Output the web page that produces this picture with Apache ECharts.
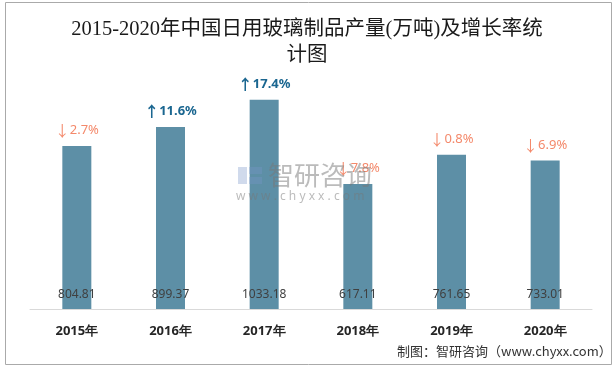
<!DOCTYPE html>
<html><head><meta charset="utf-8">
<script src="https://cdn.jsdelivr.net/npm/echarts@6/dist/echarts.min.js"></script>
<style>html,body{margin:0;padding:0;background:#fff}#c{width:614px;height:368px}</style>
</head><body><div id="c"></div>
<script>
const categories = ['2015年','2016年','2017年','2018年','2019年','2020年'];
const production = [804.81, 899.37, 1033.18, 617.11, 761.65, 733.01];
const growthRate = [-2.7, 11.6, 17.4, -7.8, -0.8, -6.9];

const chart = echarts.init(document.getElementById('c'));
const wm = 'rgba(120,120,120,0.5)';
chart.setOption({
  animation: false,
  backgroundColor: '#fff',
  title: {
    text: '2015-2020年中国日用玻璃制品产量(万吨)及增长率统\n计图',
    left: 'center', top: 12,
    textStyle: { fontFamily: 'Liberation Serif, Noto Sans CJK SC', fontSize: 20.5, fontWeight: 'normal', color: '#1a1a1a', lineHeight: 26 }
  },
  grid: { left: 30, right: 22, top: 66, bottom: 59 },
  xAxis: {
    type: 'category', data: categories,
    axisLine: { lineStyle: { color: '#d9d9d9', width: 1 } },
    axisTick: { show: false },
    axisLabel: { margin: 16, fontSize: 13, fontWeight: 'bold', color: '#262626', fontFamily: 'Noto Sans, sans-serif' }
  },
  yAxis: { type: 'value', min: 0, max: 1200, show: false, splitLine: { show: false } },
  series: [
    {
      type: 'bar', data: production, barWidth: 29,
      itemStyle: { color: '#5D8FA6' },
      label: { show: true, position: 'insideBottom', distance: 8, color: '#404040', fontSize: 12, fontFamily: 'Noto Sans, sans-serif',
        formatter: p => p.value.toFixed(2) }
    },
    {
      type: 'bar', data: production, barWidth: 29, barGap: '-100%',
      itemStyle: { color: 'rgba(0,0,0,0)' },
      label: { show: true, position: 'top', distance: 8,
        formatter: p => { const g = growthRate[p.dataIndex]; return g < 0 ? '{da|↓}{d|' + Math.abs(g).toFixed(1) + '%}' : '{ua|↑}{u|' + g.toFixed(1) + '%}'; },
        rich: {
          da: { color: '#F4896B', fontSize: 15, fontFamily: 'Noto Sans CJK SC' },
          d: { color: '#F4896B', fontSize: 13, fontFamily: 'Noto Sans, sans-serif' },
          ua: { color: '#1A6690', fontSize: 15, fontWeight: 'bold', fontFamily: 'Noto Sans CJK SC' },
          u: { color: '#1A6690', fontSize: 13, fontWeight: 'bold', fontFamily: 'Noto Sans, sans-serif' }
        }
      }
    }
  ],
  graphic: [
    { type: 'rect', shape: { x: 5.5, y: 2.5, width: 606, height: 362 }, style: { fill: 'none', stroke: '#aaaaaa', lineWidth: 1 }, silent: true },
    { type: 'text', left: 397, top: 345, style: { text: '制图：智研咨询（www.chyxx.com）', fontSize: 13, fill: '#333', fontFamily: 'Noto Sans CJK SC' } },
    { type: 'rect', z: 100, shape: { x: 238, y: 167, width: 9, height: 17 }, style: { fill: 'rgba(120,150,200,0.35)' } },
    { type: 'rect', z: 100, shape: { x: 249, y: 167, width: 13, height: 7 }, style: { fill: 'rgba(120,150,200,0.35)' } },
    { type: 'rect', z: 100, shape: { x: 249, y: 177, width: 13, height: 7 }, style: { fill: 'rgba(120,150,200,0.35)' } },
    { type: 'text', z: 100, x: 268, y: 162, style: { text: '智研咨询', fontSize: 26, fill: wm, fontFamily: 'Noto Sans CJK SC' } },
    { type: 'text', z: 100, x: 236, y: 191, style: { text: 'w w w . c h y x x . c o m', fontSize: 12, fill: wm, fontFamily: 'Noto Sans' } }
  ]
});
</script></body></html>
